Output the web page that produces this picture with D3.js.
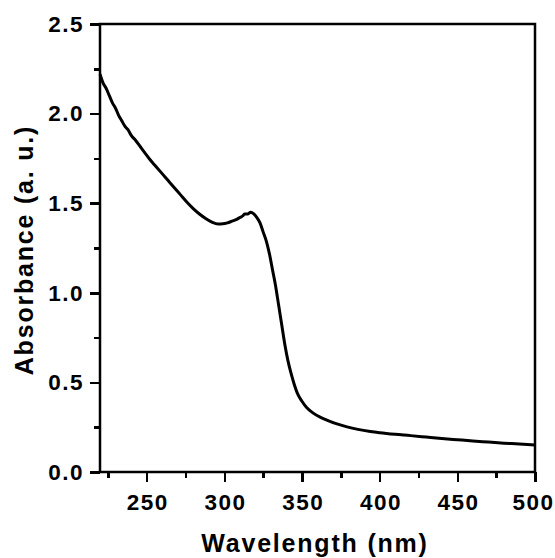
<!DOCTYPE html>
<html lang="en">
<head>
  <meta charset="utf-8">
  <title>Absorbance spectrum</title>
  <style>
    body { margin: 0; background: #fff; }
    svg { display: block; }
    .axis text {
      font: bold 22.5px "Liberation Sans", Arial, sans-serif;
      letter-spacing: 1.5px;
      fill: #000;
    }
    .axis path, .axis line {
      stroke: #000;
      stroke-width: 2.5px;
      shape-rendering: crispEdges;
    }
    .title {
      font: bold 25px "Liberation Sans", Arial, sans-serif;
      letter-spacing: 1.8px;
      fill: #000;
    }
  </style>
</head>
<body>
<div id="chart"></div>
<script src="https://d3js.org/d3.v7.min.js"></script>
<script>
  // wavelength (nm) and absorbance (a. u.)
  const wavelength = [220, 222, 224, 226, 228, 230, 232, 234, 236, 238, 240, 243, 246, 249, 252,
    256, 260, 264, 268, 272, 276, 280, 284, 288, 292, 296, 299, 302, 305, 308, 310, 312, 313, 315,
    317, 319, 321, 323, 325, 327, 329, 331, 333, 335, 337, 339, 341, 343, 345, 347, 350, 353, 357,
    362, 366, 372, 379, 386, 394, 400, 410, 420, 430, 440, 450, 460, 470, 480, 490, 500];
  const absorbance = [2.22, 2.17, 2.14, 2.10, 2.06, 2.03, 1.99, 1.96, 1.93, 1.91, 1.88, 1.85, 1.815, 1.78, 1.745,
    1.705, 1.665, 1.625, 1.585, 1.545, 1.505, 1.47, 1.44, 1.415, 1.395, 1.384, 1.385, 1.39, 1.40, 1.41, 1.42, 1.43, 1.44, 1.44,
    1.45, 1.44, 1.42, 1.39, 1.34, 1.29, 1.22, 1.13, 1.04, 0.93, 0.82, 0.71, 0.62, 0.55, 0.49, 0.44, 0.395, 0.36, 0.33,
    0.305, 0.29, 0.27, 0.252, 0.238, 0.226, 0.219, 0.21, 0.203, 0.195, 0.187, 0.18, 0.173, 0.167, 0.161, 0.156, 0.15];

  const xTicks = [250, 300, 350, 400, 450, 500];
  const xMinor = [225, 275, 325, 375, 425, 475];
  const yTicks = [0, 0.5, 1.0, 1.5, 2.0, 2.5];
  const yMinor = [0.25, 0.75, 1.25, 1.75, 2.25];

  const width = 555, height = 558;
  const plotLeft = 100, plotRight = 535, plotTop = 24, plotBottom = 472;

  const svg = d3.select("#chart")
    .append("svg")
    .attr("width", width)
    .attr("height", height);

  const x = d3.scaleLinear().domain([220, 500]).range([plotLeft, plotRight]);
  const y = d3.scaleLinear().domain([0, 2.5]).range([plotBottom, plotTop]);

  // frame
  svg.append("rect")
    .attr("x", plotLeft).attr("y", plotTop)
    .attr("width", plotRight - plotLeft).attr("height", plotBottom - plotTop)
    .attr("fill", "none").attr("stroke", "#000").attr("stroke-width", 2.5);

  // minor ticks
  svg.append("g").attr("class", "axis")
    .attr("transform", `translate(0,${plotBottom})`)
    .call(d3.axisBottom(x).tickValues(xMinor).tickSize(6).tickFormat(""))
    .select(".domain").remove();
  svg.append("g").attr("class", "axis")
    .attr("transform", `translate(${plotLeft},0)`)
    .call(d3.axisLeft(y).tickValues(yMinor).tickSize(6).tickFormat(""))
    .select(".domain").remove();

  // major ticks
  const xAxis = svg.append("g").attr("class", "axis")
    .attr("transform", `translate(0,${plotBottom})`)
    .call(d3.axisBottom(x).tickValues(xTicks).tickSize(10).tickPadding(12).tickFormat(d3.format("d")));
  xAxis.select(".domain").remove();
  xAxis.selectAll("text").attr("dx", d => d === 500 ? "-2px" : "0.75px");

  const yAxis = svg.append("g").attr("class", "axis")
    .attr("transform", `translate(${plotLeft},0)`)
    .call(d3.axisLeft(y).tickValues(yTicks).tickSize(10).tickPadding(6).tickFormat(d3.format(".1f")));
  yAxis.select(".domain").remove();

  // spectrum
  const line = d3.line()
    .x((d, i) => x(wavelength[i]))
    .y(d => y(d))
    .curve(d3.curveMonotoneX);

  svg.append("path")
    .datum(absorbance)
    .attr("d", line)
    .attr("fill", "none")
    .attr("stroke", "#000")
    .attr("stroke-width", 3)
    .attr("stroke-linejoin", "round");

  // titles
  svg.append("text").attr("class", "title")
    .attr("x", 315).attr("y", 552)
    .attr("text-anchor", "middle")
    .text("Wavelength (nm)");

  svg.append("text").attr("class", "title")
    .attr("transform", "translate(33,250) rotate(-90)")
    .attr("text-anchor", "middle")
    .text("Absorbance (a. u.)");
</script>
</body>
</html>
